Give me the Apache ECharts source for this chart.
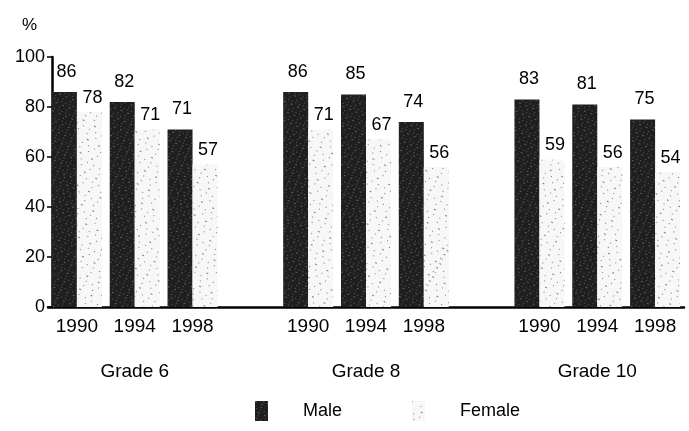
<!DOCTYPE html>
<html>
<head>
<meta charset="utf-8">
<script src="https://cdn.jsdelivr.net/npm/echarts@6/dist/echarts.min.js"></script>
<style>
html,body{margin:0;padding:0;background:#fff;}
#c{width:689px;height:431px;}
</style>
</head>
<body>
<div id="c"></div>
<script>
// ---- data ----
var years = ['1990', '1994', '1998'];
var grades = ['Grade 6', 'Grade 8', 'Grade 10'];
var maleGrade6 = [86, 82, 71];
var femaleGrade6 = [78, 71, 57];
var maleGrade8 = [86, 85, 74];
var femaleGrade8 = [71, 67, 56];
var maleGrade10 = [83, 81, 75];
var femaleGrade10 = [59, 56, 54];
var yTicks = [0, 20, 40, 60, 80, 100];

// build slot lists (empty slot between grade groups)
var cats = [], gradeCats = [], male = [], female = [];
var maleAll = [maleGrade6, maleGrade8, maleGrade10];
var femaleAll = [femaleGrade6, femaleGrade8, femaleGrade10];
for (var g = 0; g < 3; g++) {
  for (var y = 0; y < 3; y++) {
    cats.push(years[y]);
    gradeCats.push(y === 1 ? grades[g] : '');
    male.push(maleAll[g][y]);
    female.push(femaleAll[g][y]);
  }
  if (g < 2) { cats.push(''); gradeCats.push(' '); male.push('-'); female.push('-'); }
}

var FONT = "'Liberation Sans', Arial, sans-serif";
var chart = echarts.init(document.getElementById('c'), null, {renderer: 'canvas'});
chart.setOption({
  animation: false,
  backgroundColor: '#ffffff',
  textStyle: {fontFamily: FONT, color: '#000'},
  title: {
    text: '%', left: 17, top: 12,
    textStyle: {fontSize: 17, fontWeight: 'normal', color: '#000', fontFamily: FONT}
  },
  legend: {
    left: 250, top: 396,
    icon: 'rect',
    itemWidth: 13, itemHeight: 20, itemGap: 70,
    data: ['Male', 'Female'],
    textStyle: {fontSize: 18, color: '#000', fontFamily: FONT, padding: [0, 0, 0, 30]}
  },
  grid: {left: 48, right: 5, top: 57, bottom: 124, containLabel: false},
  xAxis: [{
    type: 'category',
    data: cats,
    axisLine: {show: true, lineStyle: {color: '#000', width: 2.5}},
    axisTick: {show: false},
    axisLabel: {interval: 0, fontSize: 19, color: '#000', margin: 10, fontFamily: FONT}
  }, {
    type: 'category',
    data: gradeCats,
    position: 'bottom',
    offset: 45,
    axisLine: {show: false},
    axisTick: {show: false},
    axisLabel: {interval: 0, fontSize: 19, color: '#000', margin: 10, fontFamily: FONT}
  }],
  yAxis: {
    type: 'value', min: 0, max: 100, interval: 20,
    offset: -4,
    axisLine: {show: true, lineStyle: {color: '#000', width: 2.5}},
    axisTick: {show: true, length: 5, inside: false, lineStyle: {color: '#000', width: 1.5}},
    splitLine: {show: false},
    axisLabel: {fontSize: 18, color: '#000', margin: 7, fontFamily: FONT,
      formatter: function (v) { return yTicks.indexOf(v) >= 0 ? String(v) : ''; }}
  },
  series: [{
    name: 'Male', type: 'bar', data: male, barWidth: 25, barGap: '0%',
    itemStyle: {
      color: '#1f1f1f',
      decal: {symbol: 'rect', symbolSize: 1, color: 'rgba(170,170,170,0.45)',
        dashArrayX: [[1, 3], [2, 5], [1, 7]], dashArrayY: [1, 2], rotation: 0.4}
    },
    label: {show: true, position: 'top', distance: 11, offset: [2, 0],
      fontSize: 18, color: '#000', fontFamily: FONT}
  }, {
    name: 'Female', type: 'bar', data: female, barWidth: 25,
    itemStyle: {
      color: '#f7f7f7',
      decal: {symbol: 'rect', symbolSize: 1, color: 'rgba(40,40,40,0.6)',
        dashArrayX: [[1, 6], [1, 9], [2, 11]], dashArrayY: [1, 4], rotation: 0.5}
    },
    label: {show: true, position: 'top', distance: 5, offset: [3, 0],
      fontSize: 18, color: '#000', fontFamily: FONT}
  }]
});
</script>
</body>
</html>
